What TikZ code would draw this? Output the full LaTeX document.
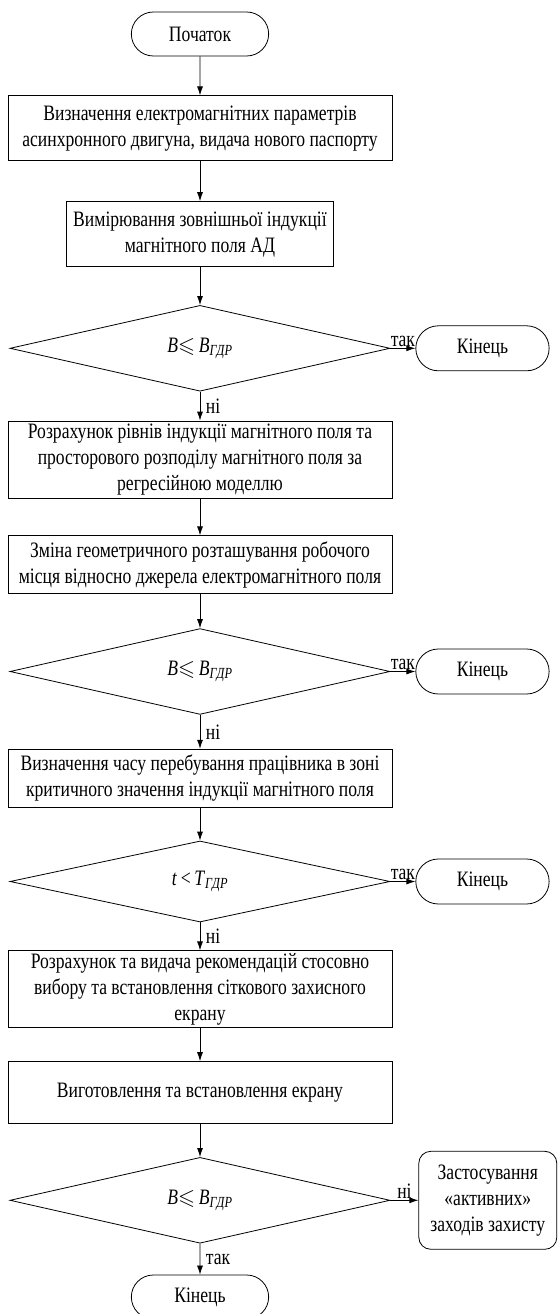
\documentclass[tikz,border=0pt]{standalone}
\usepackage{fontspec}
\setmainfont{Liberation Serif}[FakeStretch=0.8]
\usepackage{amssymb}
\usetikzlibrary{shapes, arrows.meta, positioning}

\newcommand{\condB}{\textit{B}$\leqslant$\,\textit{B}\textsubscript{\textit{ГДР}}}
\newcommand{\condT}{\textit{t}\,<\,\textit{T}\textsubscript{\textit{ГДР}}}

\begin{document}
\begin{tikzpicture}[x=1pt, y=1pt, line width=0.8pt]
    \tikzstyle{every node}=[font=\fontsize{22}{26}\selectfont]
    \tikzstyle{block}=[rectangle, draw, align=center, minimum width=384pt, inner sep=2pt]
    \tikzstyle{testbox}=[diamond, draw, minimum width=380pt, minimum height=81pt, inner sep=0pt]
    \tikzstyle{termbox}=[rounded rectangle, draw, minimum width=144pt, minimum height=44pt]
    \tikzstyle{endbox}=[termbox, minimum width=140pt, minimum height=45pt]
    \tikzstyle{flow}=[draw, -{Latex[length=9pt, width=6pt]}]
    \tikzstyle{answer}=[inner sep=1.5pt]

    \useasboundingbox (0,0) rectangle (557,-1314);

    \node[termbox] (start) at (200,-34) {Початок};
    \node[block, minimum height=65pt, below=39pt of start] (params)
        {Визначення електромагнітних параметрів\\асинхронного двигуна, видача нового паспорту};
    \node[block, minimum width=267pt, minimum height=65pt, below=40pt of params] (measure)
        {Вимірювання зовнішньої індукції\\магнітного поля АД};
    \node[testbox, below=38pt of measure] (check1) {\condB};
    \node[endbox, right=25pt of check1] (end1) {Кінець};
    \node[block, minimum height=77pt, below=29pt of check1] (calc)
        {Розрахунок рівнів індукції магнітного поля та\\просторового розподілу магнітного поля за\\регресійною моделлю};
    \node[block, minimum height=58pt, below=37pt of calc] (move)
        {Зміна геометричного розташування робочого\\місця відносно джерела електромагнітного поля};
    \node[testbox, below=34pt of move] (check2) {\condB};
    \node[endbox, right=25pt of check2] (end2) {Кінець};
    \node[block, minimum height=58pt, below=34pt of check2] (time)
        {Визначення часу перебування працівника в зоні\\критичного значення індукції магнітного поля};
    \node[testbox, below=33pt of time] (check3) {\condT};
    \node[endbox, right=25pt of check3] (end3) {Кінець};
    \node[block, minimum height=77pt, below=28pt of check3] (advice)
        {Розрахунок та видача рекомендацій стосовно\\вибору та встановлення сіткового захисного\\екрану};
    \node[block, minimum height=62pt, below=33pt of advice] (screen)
        {Виготовлення та встановлення екрану};
    \node[testbox, minimum height=78pt, below=33pt of screen] (check4) {\condB};
    \node[rectangle, rounded corners=12pt, draw, align=center, minimum width=138pt,
        minimum height=98pt, right=28pt of check4] (active)
        {Застосування\\«активних»\\заходів захисту};
    \node[termbox, below=31pt of check4] (final) {Кінець};

    % main line
    \foreach \a/\b in {start/params, params/measure, measure/check1, calc/move,
        move/check2, time/check3, advice/screen, screen/check4}
        \draw[flow] (\a) -- (\b);

    % answers
    \draw[flow] (check1) -- node[answer, above] {так} (end1);
    \draw[flow] (check1) -- node[answer, right=4pt] {ні} (calc);
    \draw[flow] (check2) -- node[answer, above] {так} (end2);
    \draw[flow] (check2) -- node[answer, right=4pt] {ні} (time);
    \draw[flow] (check3) -- node[answer, above] {так} (end3);
    \draw[flow] (check3) -- node[answer, right=4pt] {ні} (advice);
    \draw[flow] (check4) -- node[answer, above] {ні} (active);
    \draw[flow] (check4) -- node[answer, right=4pt] {так} (final);
\end{tikzpicture}
\end{document}
